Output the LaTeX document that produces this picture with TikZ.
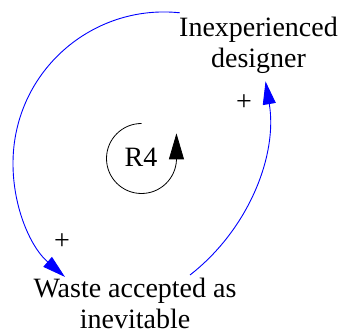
\documentclass[tikz,border=0pt]{standalone}
\usepackage{fontspec}
\setmainfont{Liberation Serif}
\usetikzlibrary{arrows.meta}
\begin{document}
\begin{tikzpicture}[x=1pt,y=1pt,
  lbl/.style={font=\fontsize{28}{31}\selectfont, inner sep=0pt, align=center, text=black},
  link/.style={draw={rgb,255:red,0;green,0;blue,255}, line width=0.9pt, -{Triangle[length=23pt,width=13pt]}},
  loopline/.style={draw=black, line width=0.8pt, -{Triangle[length=26pt,width=15pt]}}]
\useasboundingbox (0,0) rectangle (340,336);
\node[lbl, anchor=base] (ID) at (258.5,268) {Inexperienced\\designer};
\node[lbl, anchor=base] (WA) at (135,7) {Waste accepted as\\inevitable};
\node[lbl, anchor=base] (R4) at (141,169) {R4};
\node[lbl] (p1) at (244,233) {+};
\node[lbl] (p2) at (62,94) {+};
\coordinate (a1s) at (179.8,323.2);
\coordinate (a2s) at (190,61);
\coordinate (r4s) at (141.5,212.5);
\draw[link] (a1s) arc[start angle=84, end angle=229, radius=151];
\draw[link] (a2s) arc[start angle=-52.1, end angle=9.5, radius=203];
\draw[loopline] (r4s) arc[start angle=90, end angle=357, radius=35] -- ++(0,27);
\end{tikzpicture}
\end{document}
